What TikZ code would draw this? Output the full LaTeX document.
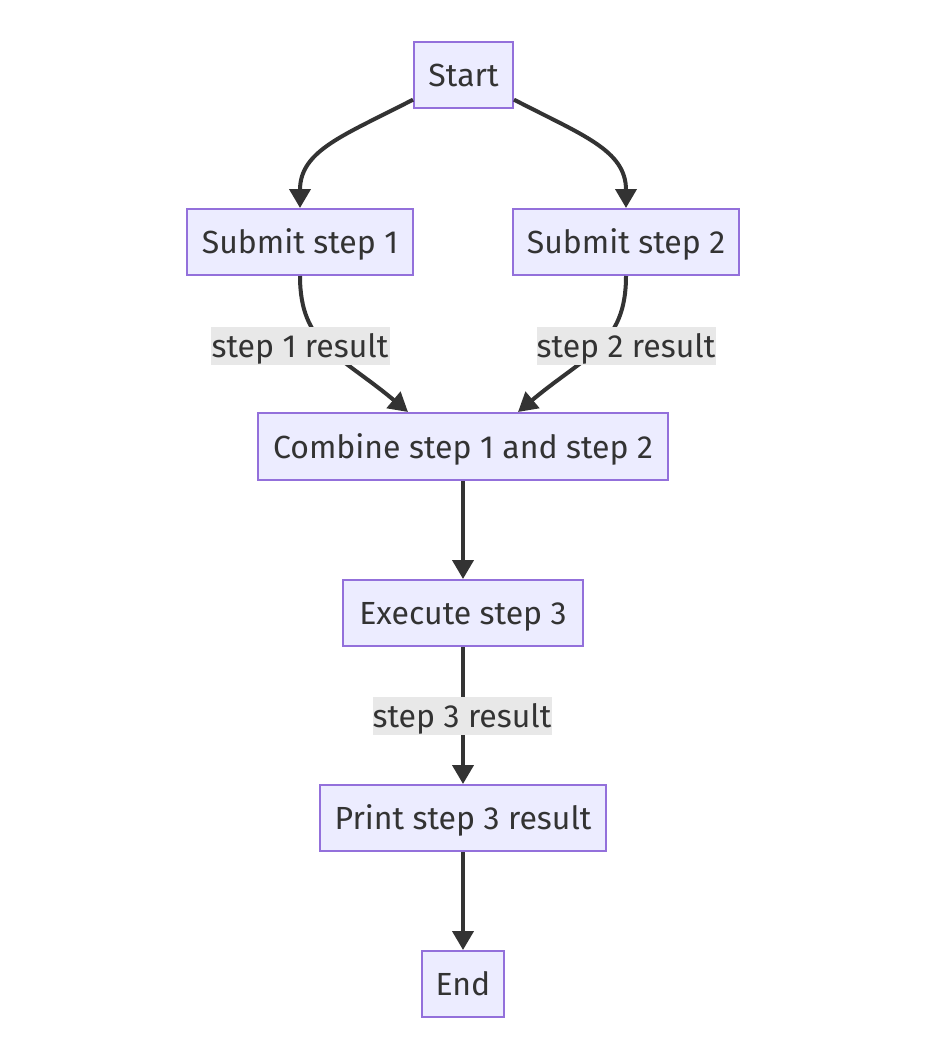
\documentclass[tikz,border=0pt]{standalone}
\usepackage{fontspec}
\setmainfont{Fira Sans}
\usetikzlibrary{arrows.meta,calc}
\definecolor{nodefill}{HTML}{ECECFF}
\definecolor{nodeborder}{HTML}{9370DB}
\definecolor{edgecol}{HTML}{333333}
\definecolor{labelbg}{HTML}{E8E8E8}
\tikzset{
  box/.style={draw=nodeborder, fill=nodefill, line width=2pt, text=edgecol,
    minimum height=66pt, inner sep=0pt, text height=29pt, text depth=6pt,
    font=\fontsize{32}{38}\selectfont},
  elabel/.style={fill=labelbg, text=edgecol, minimum height=38pt, inner sep=0pt,
    text height=28pt, text depth=6pt, font=\fontsize{32}{38}\selectfont},
  flow/.style={draw=edgecol, line width=4pt, -{Triangle[length=19pt,width=21pt]}},
}
\begin{document}
\begin{tikzpicture}[x=1pt,y=-1pt]
\useasboundingbox (0,0) rectangle (940,1052);
\node[box, minimum width=99pt] (start) at (463.5,75) {Start};
\node[box, minimum width=226pt] (s1) at (300,242) {Submit step 1};
\node[box, minimum width=226pt] (s2) at (626,242) {Submit step 2};
\node[box, minimum width=410pt, minimum height=67pt] (comb) at (463,446.5) {Combine step 1 and step 2};
\node[box, minimum width=240pt] (exec) at (463,613) {Execute step 3};
\node[box, minimum width=286pt] (print) at (463,818) {Print step 3 result};
\node[box, minimum width=82pt] (end) at (463,984) {End};

\draw[flow] (start.206.8) .. controls (345,135) and (300,150) .. (s1.north);
\draw[flow] (start.-26.8) .. controls (582,135) and (626,150) .. (s2.north);
\draw[flow] (s1.south) .. controls (300,345) and (340,355) .. ($(comb.north)+(-55,0)$);
\draw[flow] (s2.south) .. controls (626,345) and (586,355) .. ($(comb.north)+(55,0)$);
\draw[flow] (comb.south) -- (exec.north);
\draw[flow] (exec.south) -- (print.north);
\draw[flow] (print.south) -- (end.north);

\node[elabel, minimum width=179pt] (l1) at (300,346) {step 1 result};
\node[elabel, minimum width=179pt] (l2) at (626,346) {step 2 result};
\node[elabel, minimum width=179pt] (l3) at (462,716) {step 3 result};
\end{tikzpicture}
\end{document}
